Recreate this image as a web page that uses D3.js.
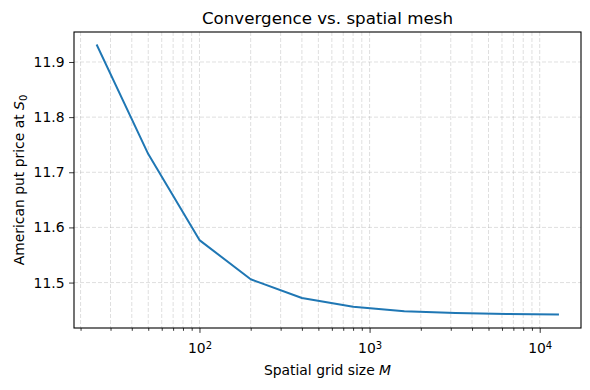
<!DOCTYPE html>
<html>
<head>
<meta charset="utf-8">
<script src="https://cdn.jsdelivr.net/npm/d3@7"></script>
<style>
  body { margin: 0; background: #fff; }
  svg { font-family: "DejaVu Sans", sans-serif; }
</style>
</head>
<body>
<svg width="590" height="390"></svg>
<script>
var width = 590;
var height = 390;
var margin = {top: 32, right: 9, bottom: 62, left: 74};

// grid sizes M and the resulting prices
var gridSizes = [25, 50, 100, 200, 400, 800, 1600, 3200, 6400, 12800];
var prices = [11.930, 11.733, 11.577, 11.506, 11.472, 11.456, 11.448, 11.445, 11.443, 11.442];
var yTicks = [11.5, 11.6, 11.7, 11.8, 11.9];
var xMajorTicks = [100, 1000, 10000];
var xMajorExp = ["2", "3", "4"];

var data = gridSizes.map((m, i) => ({m: m, p: prices[i]}));

// matplotlib style 5% margins
var lx = d3.extent(gridSizes).map(Math.log10);
var padX = (lx[1] - lx[0]) * 0.05;
var ey = d3.extent(prices);
var padY = (ey[1] - ey[0]) * 0.05;

var xScale = d3.scaleLog()
    .domain([Math.pow(10, lx[0] - padX), Math.pow(10, lx[1] + padX)])
    .range([margin.left, width - margin.right]);

var yScale = d3.scaleLinear()
    .domain([ey[0] - padY, ey[1] + padY])
    .range([height - margin.bottom, margin.top]);

var xMinorTicks = [];
[10, 100, 1000, 10000].forEach(function(base){
    for (var k = 2; k <= 9; k++) {
        var v = base * k;
        if (v > xScale.domain()[0] && v < xScale.domain()[1]) xMinorTicks.push(v);
    }
});

var svg = d3.select("svg");

//GRID
var grid = svg.append("g")
    .attr("stroke", "#b0b0b0")
    .attr("stroke-opacity", 0.5)
    .attr("stroke-width", 0.8)
    .attr("stroke-dasharray", "4,2");

grid.selectAll("line.vx")
  .data(xMajorTicks.concat(xMinorTicks))
  .enter()
  .append("line")
    .attr("x1", d => xScale(d))
    .attr("x2", d => xScale(d))
    .attr("y1", margin.top)
    .attr("y2", height - margin.bottom);

grid.selectAll("line.hy")
  .data(yTicks)
  .enter()
  .append("line")
    .attr("y1", d => yScale(d))
    .attr("y2", d => yScale(d))
    .attr("x1", margin.left)
    .attr("x2", width - margin.right);

//LINE
var line = d3.line()
    .x(d => xScale(d.m))
    .y(d => yScale(d.p));

svg.append("path")
    .datum(data)
    .attr("fill", "none")
    .attr("stroke", "#1f77b4")
    .attr("stroke-width", 2)
    .attr("stroke-linejoin", "round")
    .attr("stroke-linecap", "square")
    .attr("d", line);

//AXES
var xAxis = d3.axisBottom(xScale)
    .tickValues(xMajorTicks)
    .tickSize(4.9)
    .tickSizeOuter(0)
    .tickFormat("");

var xMinorAxis = d3.axisBottom(xScale)
    .tickValues(xMinorTicks)
    .tickSize(2.8)
    .tickSizeOuter(0)
    .tickFormat("");

var yAxis = d3.axisLeft(yScale)
    .tickValues(yTicks)
    .tickSize(4.9)
    .tickSizeOuter(0)
    .tickFormat(d3.format(".1f"));

var gx = svg.append("g")
    .attr("transform", "translate(0," + (height - margin.bottom) + ")")
    .call(xAxis);
svg.append("g")
    .attr("transform", "translate(0," + (height - margin.bottom) + ")")
    .call(xMinorAxis)
    .select(".domain").remove();

var gy = svg.append("g")
    .attr("transform", "translate(" + margin.left + ",0)")
    .call(yAxis);

gx.select(".domain").remove();
gy.select(".domain").remove();
svg.selectAll(".tick line").attr("stroke", "#000").attr("stroke-width", 0.8);

gy.selectAll(".tick text")
    .attr("x", -9.5)
    .style("font-size", "13.9px")
    .style("font-family", "DejaVu Sans")
    .attr("fill", "#000");

// x tick labels as 10^n
gx.selectAll(".tick")
  .append("text")
    .attr("y", 25)
    .attr("fill", "#000")
    .style("font-size", "13.9px")
    .style("font-family", "DejaVu Sans")
    .attr("text-anchor", "middle")
    .each(function(d, i){
        var t = d3.select(this);
        t.append("tspan").text("10");
        t.append("tspan")
            .attr("dy", "-0.45em")
            .style("font-size", "10px")
            .text(xMajorExp[i]);
    });

// frame
svg.append("rect")
    .attr("x", margin.left)
    .attr("y", margin.top)
    .attr("width", width - margin.left - margin.right)
    .attr("height", height - margin.top - margin.bottom)
    .attr("fill", "none")
    .attr("stroke", "#000")
    .attr("stroke-width", 1.1);

//TITLE
svg.append("text")
    .attr("x", (margin.left + width - margin.right) / 2)
    .attr("y", 24)
    .style("text-anchor", "middle")
    .style("font-size", "16.7px")
    .text("Convergence vs. spatial mesh");

//x-axis label
var xl = svg.append("text")
    .attr("x", (margin.left + width - margin.right) / 2)
    .attr("y", 375)
    .style("text-anchor", "middle")
    .style("font-size", "13.9px");
xl.append("tspan").text("Spatial grid size ");
xl.append("tspan").style("font-style", "italic").text("M");

//y-axis label
var yl = svg.append("text")
    .attr("transform", "rotate(-90)")
    .attr("x", -(margin.top + height - margin.bottom) / 2)
    .attr("y", 24)
    .style("text-anchor", "middle")
    .style("font-size", "13.9px");
yl.append("tspan").text("American put price at ");
yl.append("tspan").style("font-style", "italic").text("S");
yl.append("tspan").attr("dy", "0.25em").style("font-size", "10px").text("0");
</script>
</body>
</html>
